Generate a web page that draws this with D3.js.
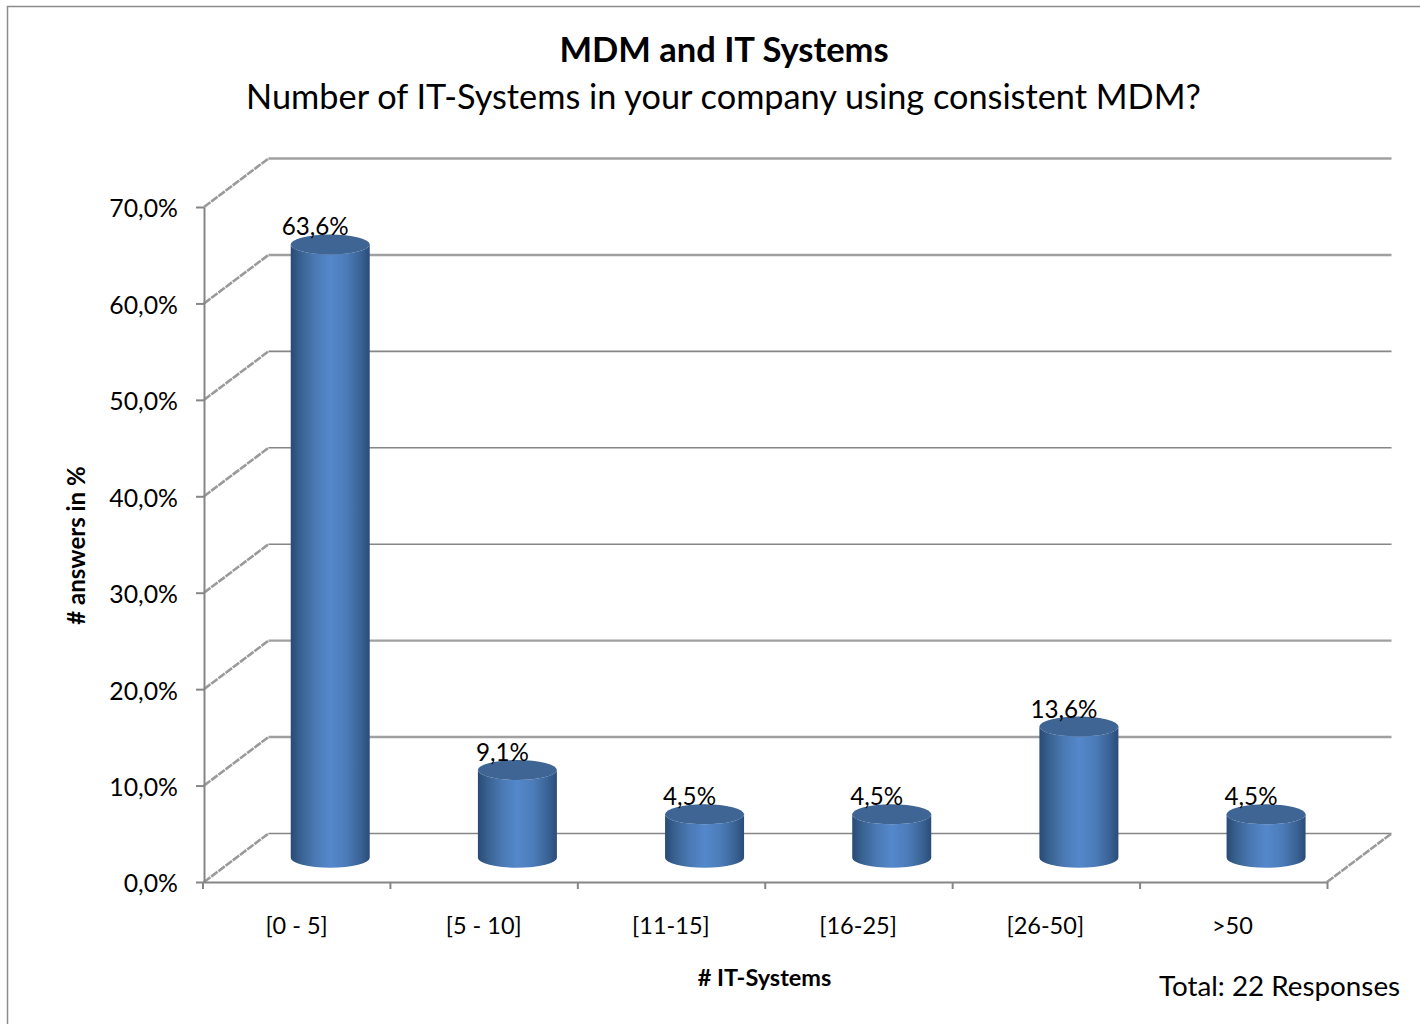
<!DOCTYPE html>
<html><head><meta charset="utf-8">
<script src="https://cdn.jsdelivr.net/npm/d3@7/dist/d3.min.js"></script>
<style>html,body{margin:0;padding:0;background:#fff;overflow:hidden}svg{display:block}text{font-family:Lato,"Open Sans",sans-serif;fill:#000}</style>
</head><body><script>
const categories = ["[0 - 5]","[5 - 10]","[11-15]","[16-25]","[26-50]",">50"];
const values = [63.6,9.1,4.5,4.5,13.6,4.5];
const yTicks = [0,10,20,30,40,50,60,70];
const titleText = "MDM and IT Systems";
const subtitleText = "Number of IT-Systems in your company using consistent MDM?";
const yAxisTitle = "# answers in %";
const xAxisTitle = "# IT-Systems";
const noteText = "Total: 22 Responses";

const fmt = v => v.toFixed(1).replace(".",",");
const depth = {dx:64.5, dy:-48.5};
const svg = d3.select("body").append("svg").attr("width",1420).attr("height",1024);
const defs = svg.append("defs");
const grad = defs.append("linearGradient").attr("id","cyl");
[[0,"#294a75"],[0.12,"#38618f"],[0.3,"#4a78b2"],[0.5,"#5488cc"],[0.7,"#4c7cb9"],[0.88,"#3a6496"],[1,"#2b4c78"]]
  .forEach(([o,c])=>grad.append("stop").attr("offset",o).attr("stop-color",c));

svg.append("rect").attr("x",7.5).attr("y",6.5).attr("width",1440).attr("height",1040)
  .attr("fill","#fff").attr("stroke","#8c8c8c").attr("stroke-width",1.5);

const y = d3.scaleLinear().domain([0,70]).range([882,207]);
const x = d3.scaleBand().domain(categories).range([204,1327]);
const xEdge = d3.scaleLinear().domain([0,categories.length]).range([202.5,1327]);

const wall = svg.append("g");
wall.selectAll("line.back").data(yTicks).join("line")
  .attr("x1",x.range()[0]+depth.dx).attr("x2",x.range()[1]+depth.dx)
  .attr("y1",d=>y(d)+depth.dy).attr("y2",d=>y(d)+depth.dy)
  .attr("stroke",d=>[70,60,20,10].includes(d)?"#a0a0a0":"#868686")
  .attr("stroke-width",d=>[70,60,20,10].includes(d)?2.4:1.6);
wall.selectAll("line.side").data(yTicks).join("line")
  .attr("x1",x.range()[0]).attr("x2",x.range()[0]+depth.dx)
  .attr("y1",d=>y(d)).attr("y2",d=>y(d)+depth.dy)
  .attr("stroke","#9a9a9a").attr("stroke-width",2.6).attr("stroke-dasharray","8 1");
wall.append("line").attr("x1",x.range()[1]).attr("x2",x.range()[1]+depth.dx)
  .attr("y1",y(0)).attr("y2",y(0)+depth.dy).attr("stroke","#9a9a9a").attr("stroke-width",2.6).attr("stroke-dasharray","8 1");

const yAxis = svg.append("g").attr("transform","translate(204,0)")
  .call(d3.axisLeft(y).tickValues(yTicks).tickSize(8).tickSizeOuter(0).tickPadding(18).tickFormat(d=>fmt(d)+"%"));
yAxis.selectAll("path,line").attr("stroke","#868686").attr("stroke-width",2);
yAxis.selectAll("text").attr("font-size",24.8).attr("dy","0.4em").style("font-family","Lato");

const edgeAxis = svg.append("g").attr("transform","translate(0,882)")
  .call(d3.axisBottom(xEdge).tickValues(d3.range(categories.length+1)).tickSize(7).tickSizeOuter(0).tickFormat(""));
edgeAxis.selectAll("path,line").attr("stroke","#868686").attr("stroke-width",2);

const labelAxis = svg.append("g").attr("transform","translate(0,882)")
  .call(d3.axisBottom(x).tickSize(0).tickPadding(35));
labelAxis.select("path").remove();
labelAxis.selectAll("text").attr("font-size",23.5).attr("transform","translate(-1,0)").style("font-family","Lato");

const rx = 39.5, ry = 10;
const cx = d => x(d)+x.bandwidth()/2+depth.dx/2+0.4;
const cy = v => y(v)+depth.dy/2;
const bars = svg.append("g").selectAll("g").data(categories.map((c,i)=>({c,v:values[i]}))).join("g");
bars.append("path")
  .attr("d",d=>{
    const l=cx(d.c)-rx, r=cx(d.c)+rx, t=cy(d.v), b=cy(0);
    return `M${l},${t}L${l},${b}A${rx},${ry} 0 0 0 ${r},${b}L${r},${t}A${rx},${ry} 0 0 1 ${l},${t}Z`;
  }).attr("fill","url(#cyl)");
bars.append("ellipse").attr("cx",d=>cx(d.c)).attr("cy",d=>cy(d.v))
  .attr("rx",rx).attr("ry",ry).attr("fill","#3e6594");
bars.append("text").attr("x",d=>cx(d.c)-15).attr("y",d=>cy(d.v)-9)
  .attr("text-anchor","middle").attr("font-size",24.2).text(d=>fmt(d.v)+"%");

svg.append("text").attr("x",724).attr("y",62).attr("text-anchor","middle")
  .attr("font-size",34.5).attr("font-weight",700).text(titleText);
svg.append("text").attr("x",723.5).attr("y",109).attr("text-anchor","middle")
  .attr("font-size",34.3).text(subtitleText);
svg.append("text").attr("transform","translate(85,545.5) rotate(-90)").attr("text-anchor","middle")
  .attr("font-size",24).attr("font-weight",700).text(yAxisTitle);
svg.append("text").attr("x",764.5).attr("y",986).attr("text-anchor","middle")
  .attr("font-size",23.5).attr("font-weight",700).text(xAxisTitle);
svg.append("text").attr("x",1159).attr("y",996)
  .attr("font-size",27.8).text(noteText);
</script></body></html>
